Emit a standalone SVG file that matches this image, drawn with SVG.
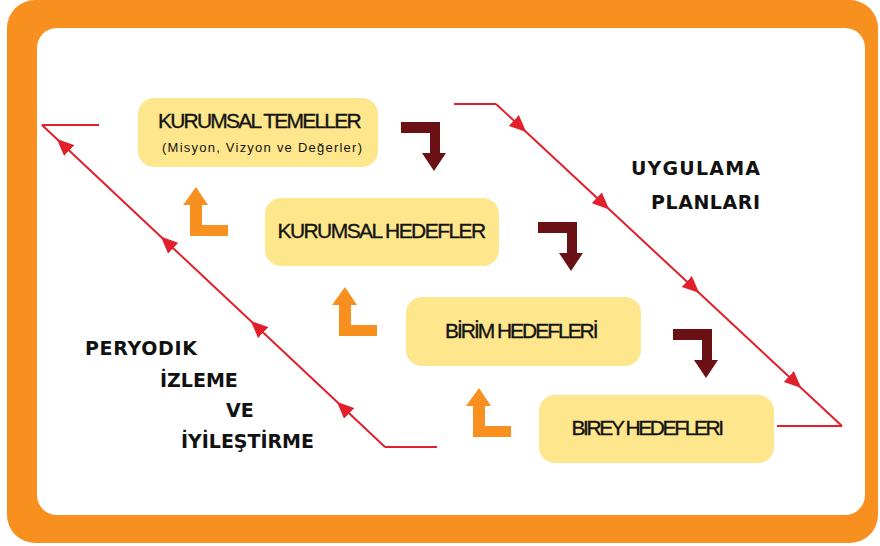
<svg xmlns="http://www.w3.org/2000/svg" width="880" height="546" viewBox="0 0 880 546">
<style>
.box{fill:#fde68b}
.lbl{font-family:"Liberation Sans",Arial,sans-serif;fill:#141414;text-anchor:middle}
.big{font-size:21px;letter-spacing:-1.6px;stroke:#141414;stroke-width:0.35}
.side{font-family:"DejaVu Sans","Liberation Sans",sans-serif;font-weight:bold;fill:#111;font-size:19px}
.red{fill:none;stroke:#e2202b;stroke-width:2}
.down{fill:#6b1116}
.up{fill:#f7901e}
</style>
<defs>
<marker id="tri" viewBox="0 0 16 14" refX="8" refY="7" markerWidth="17" markerHeight="15" markerUnits="userSpaceOnUse" orient="auto">
<path d="M0,0 L16,7 L0,14 z" fill="#e2202b"/>
</marker>
<polygon id="darr" points="401,122 440,122 440,153 446,153 434,171 422,153 430,153 430,133 401,133"/>
<polygon id="oarr" points="196,187 208,205 202,205 202,225 228,225 228,236 190,236 190,205 183,205"/>
</defs>
<rect x="7" y="0" width="871" height="543" rx="28" fill="#f7901e"/>
<rect x="37" y="28" width="828" height="487" rx="20" fill="#fff"/>

<g id="connectors">
<polyline class="red" points="454,104 496,104"/>
<path class="red" marker-mid="url(#tri)" d="M496,104 L520,126.3 L603,203.6 L693,287.3 L795,382.3 L842,426"/>
<polyline class="red" points="842,426 777,426"/>
<polyline class="red" points="437,447 385,447"/>
<path class="red" marker-mid="url(#tri)" d="M385,447 L343,407.6 L257,326.8 L167,242.4 L63,144.7 L42,125"/>
<polyline class="red" points="42,125 99,125"/>
<use href="#darr" class="down"/>
<use href="#darr" class="down" transform="translate(137,100)"/>
<use href="#darr" class="down" transform="translate(272,207)"/>
<use href="#oarr" class="up"/>
<use href="#oarr" class="up" transform="translate(149,100)"/>
<use href="#oarr" class="up" transform="translate(283,201)"/>
</g>

<g id="n1">
<rect class="box" x="138" y="98" width="240" height="69" rx="16"/>
<text class="lbl big" x="259" y="128" textLength="202">KURUMSAL TEMELLER</text>
<text class="lbl" x="262" y="152" font-size="13" textLength="200">(Misyon, Vizyon ve Değerler)</text>
</g>
<g id="n2">
<rect class="box" x="265" y="198" width="234" height="68" rx="16"/>
<text class="lbl big" x="381" y="238" textLength="207">KURUMSAL HEDEFLER</text>
</g>
<g id="n3">
<rect class="box" x="406" y="297" width="235" height="69" rx="16"/>
<text class="lbl big" x="521" y="338" textLength="152">BİRİM HEDEFLERİ</text>
</g>
<g id="n4">
<rect class="box" x="539" y="395" width="235" height="68" rx="16"/>
<text class="lbl big" x="647" y="435" textLength="151">BIREY HEDEFLERI</text>
</g>

<g id="uygulama">
<text class="side" x="760" y="175" text-anchor="end" font-size="20" textLength="129">UYGULAMA</text>
<text class="side" x="760" y="209" text-anchor="end" font-size="20" textLength="109">PLANLARI</text>
</g>
<g id="izleme">
<text class="side" x="85" y="355" textLength="112">PERYODIK</text>
<text class="side" x="160" y="387">İZLEME</text>
<text class="side" x="226" y="417" font-size="20">VE</text>
<text class="side" x="181" y="448" textLength="133">İYİLEŞTİRME</text>
</g>
</svg>
